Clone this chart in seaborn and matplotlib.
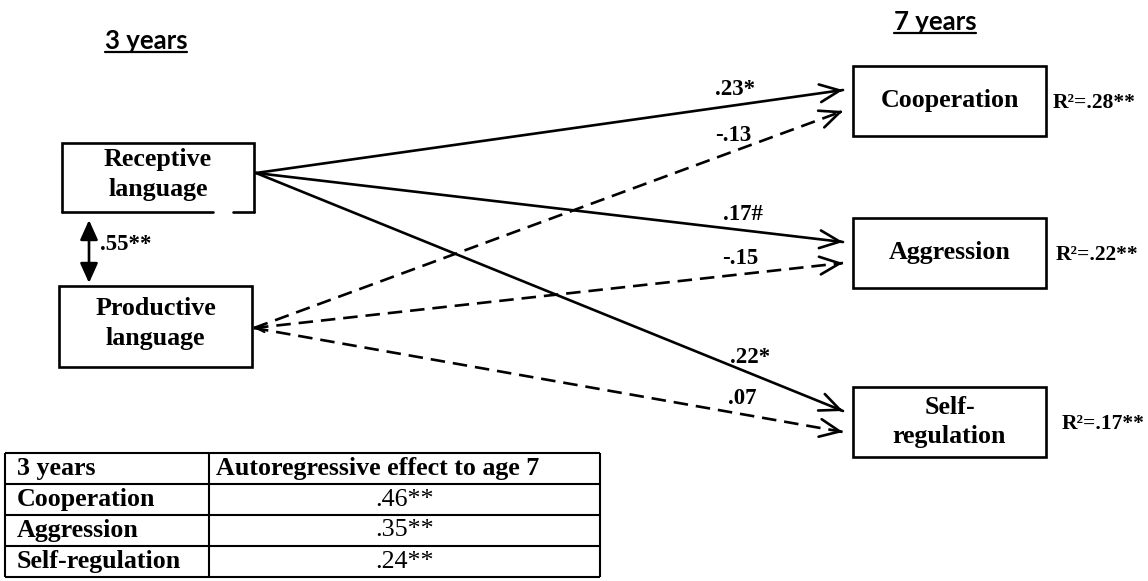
import numpy as np
import pandas as pd
import seaborn as sns
import matplotlib.pyplot as plt
from matplotlib.patches import Rectangle

# ---- chart content ----
age_titles = ["3 years", "7 years"]
predictors = ["Receptive\nlanguage", "Productive\nlanguage"]
outcomes = ["Cooperation", "Aggression", "Self-\nregulation"]
r_squared = [".28**", ".22**", ".17**"]
receptive_paths = [".23*", ".17#", ".22*"]
productive_paths = ["-.13", "-.15", ".07"]
correlation = ".55**"
table_header = ["3 years", "Autoregressive effect to age 7"]
table_rows = ["Cooperation", "Aggression", "Self-regulation"]
autoreg = [".46**", ".35**", ".24**"]

# ---- layout (pixel space, y down) ----
W, H = 1148, 581
left_boxes = [(62, 143, 192, 69), (59, 286, 193, 81)]
left_src = [(256, 173), (254, 328)]
right_x, right_w, right_h = 853, 193, 70
right_tops = [66, 218, 387]
tip_gap = 10
tip_dy = [-11, 10]
label_x = [[735, 743, 750], [733, 740, 742]]
label_lift = 16
r2_x = [1053, 1056, 1062]
title_pos = [(146, 41), (935, 22)]
table_x = [5, 209, 600]
table_y0, row_h = 453, 31

SERIF = "Liberation Serif"
LW = 1.9
SPACING = 1.35

sns.set_theme(style="white")
plt.rcParams["font.family"] = ["Liberation Serif", "DejaVu Sans"]
plt.rcParams["text.color"] = "black"

fig = plt.figure(figsize=(W / 100, H / 100), dpi=100)
ax = fig.add_axes([0, 0, 1, 1])


def draw_box(x, y, w, h, gap=None):
    if gap is None:
        ax.add_patch(Rectangle((x, y), w, h, fill=False, lw=LW, ec="black", joinstyle="miter"))
        return
    # receptive box has a small break in its bottom edge
    ax.plot([x, x, x + w, x + w], [y + h, y, y, y + h], color="black", lw=LW, solid_joinstyle="miter")
    ax.plot([x, gap[0]], [y + h, y + h], color="black", lw=LW)
    ax.plot([gap[1], x + w], [y + h, y + h], color="black", lw=LW)


# one row per path end point
rows = []
for i, (sx, sy) in enumerate(left_src):
    for j, top in enumerate(right_tops):
        tx = right_x - tip_gap
        ty = top + right_h / 2 + tip_dy[i]
        kind = "solid" if i == 0 else "dashed"
        pid = f"{i}-{j}"
        rows.append([pid, sx, sy, kind, i, j])
        rows.append([pid, tx, ty, kind, i, j])
paths = pd.DataFrame(rows, columns=["path", "x", "y", "kind", "src", "dst"])

sns.lineplot(data=paths, x="x", y="y", units="path", style="kind", estimator=None, sort=False,
             color="black", lw=LW, dashes={"solid": "", "dashed": (5.5, 3)}, legend=False, ax=ax)

coef = [receptive_paths, productive_paths]
for pid, g in paths.groupby("path", sort=False):
    (x0, y0), (x1, y1) = g[["x", "y"]].values
    i, j = g["src"].iloc[0], g["dst"].iloc[0]
    d = np.array([x1 - x0, y1 - y0]) / np.hypot(x1 - x0, y1 - y0)
    ax.annotate("", xy=(x1, y1), xytext=(x1 - 3 * d[0], y1 - 3 * d[1]),
                arrowprops=dict(arrowstyle="->,head_length=0.72,head_width=0.32", mutation_scale=20,
                                lw=LW, color="black", shrinkA=0, shrinkB=0))
    lx = label_x[i][j]
    ly = y0 + (y1 - y0) * (lx - x0) / (x1 - x0) - label_lift
    ax.text(lx, ly, coef[i][j], ha="center", va="center", fontsize=16.5, fontweight="bold", family=SERIF)

# tiny stray head where the dashed paths meet
sx, sy = left_src[1]
ax.annotate("", xy=(sx, sy), xytext=(sx + 3, sy),
            arrowprops=dict(arrowstyle="->,head_length=0.3,head_width=0.15", mutation_scale=20,
                            lw=1.4, color="black", shrinkA=0, shrinkB=0))

# left boxes
for k, (bx, by, bw, bh) in enumerate(left_boxes):
    draw_box(bx, by, bw, bh, gap=(213, 233) if k == 0 else None)
    ax.text(bx + bw / 2, by + bh / 2 - 3, predictors[k], ha="center", va="center", fontsize=18.7,
            fontweight="bold", family=SERIF, linespacing=SPACING)

# correlation arrow
ax.annotate("", xy=(89, 220), xytext=(89, 283),
            arrowprops=dict(arrowstyle="<|-|>,head_length=0.6,head_width=0.27", mutation_scale=20,
                            lw=LW, color="black", shrinkA=0, shrinkB=0))
ax.text(100, 244, correlation, ha="left", va="center", fontsize=16.5, fontweight="bold", family=SERIF)

# right boxes
for j, top in enumerate(right_tops):
    draw_box(right_x, top, right_w, right_h)
    ax.text(right_x + right_w / 2, top + right_h / 2, outcomes[j], ha="center", va="center", fontsize=18.7,
            fontweight="bold", family=SERIF, linespacing=SPACING)
    ax.text(r2_x[j], top + right_h / 2 + 2, "R\u00b2=" + r_squared[j], ha="left", va="center",
            fontsize=15.5, fontweight="bold", family=SERIF)

# age titles, underlined
renderer = fig.canvas.get_renderer()
ax.set_xlim(0, W)
ax.set_ylim(H, 0)
for t, (tx, ty) in zip(age_titles, title_pos):
    txt = ax.text(tx, ty, t, ha="center", va="center", fontsize=18.5, fontweight="bold", family="Lato")
    bb = txt.get_window_extent(renderer).transformed(ax.transData.inverted())
    uy = max(bb.y0, bb.y1) - 1
    ax.plot([bb.x0, bb.x1], [uy, uy], color="black", lw=1.6)

# autoregressive table
n = len(table_rows) + 1
ys = [table_y0 + k * row_h for k in range(n + 1)]
ax.hlines(ys, table_x[0], table_x[-1], color="black", lw=1.5)
ax.vlines(table_x, ys[0], ys[-1], color="black", lw=1.5)
cells = [table_header] + [[r, v] for r, v in zip(table_rows, autoreg)]
for k, (c1, c2) in enumerate(cells):
    yc = ys[k] + row_h / 2
    ax.text(table_x[0] + 12, yc, c1, ha="left", va="center", fontsize=18.7, fontweight="bold", family=SERIF)
    if k == 0:
        ax.text(table_x[1] + 7, yc, c2, ha="left", va="center", fontsize=18.7, fontweight="bold", family=SERIF)
    else:
        ax.text((table_x[1] + table_x[2]) / 2, yc, c2, ha="center", va="center", fontsize=18.7, family=SERIF)

ax.set_xlim(0, W)
ax.set_ylim(H, 0)
ax.axis("off")
fig.savefig("out.png", dpi=100, facecolor="white")
